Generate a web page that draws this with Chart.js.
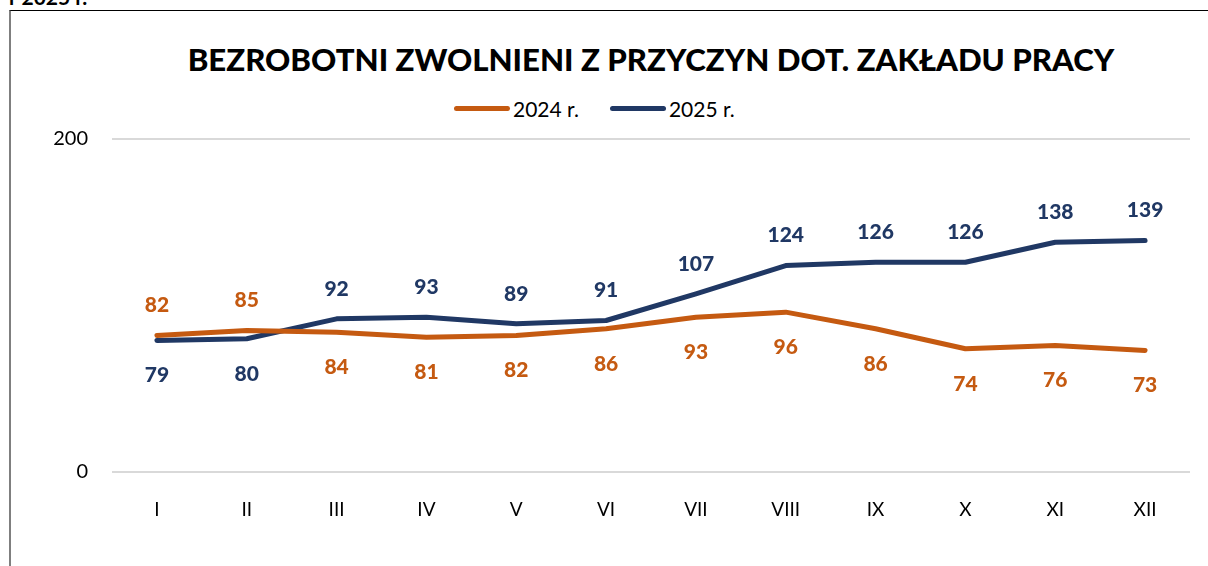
<!DOCTYPE html>
<html>
<head>
<meta charset="utf-8">
<script src="https://cdn.jsdelivr.net/npm/chart.js@4/dist/chart.umd.min.js"></script>
<style>
  body { margin: 0; background: #fff; font-family: Lato, "Open Sans", sans-serif; }
  #wrap { position: relative; width: 1208px; height: 566px; overflow: hidden; }
  #frame { position: absolute; left: 9px; top: 10px; right: -2px; bottom: -2px;
           border-left: 2px solid #7f7f7f; border-top: 1px solid #000; }
  #cut { position: absolute; left: 9px; top: -16px; font-weight: bold; font-size: 21px; }
  #title { position: absolute; top: 40px; left: 0; width: 1302px; text-align: center;
           font-weight: 900; font-size: 31px; white-space: nowrap; color: #000; }
  #legend { position: absolute; top: 96px; left: 454px; }
  #chart { position: absolute; left: 0; top: 0; }
</style>
</head>
<body>
<div id="wrap">
  <div id="cut">r 2025 r.</div>
  <div id="frame"></div>
  <div id="title">BEZROBOTNI ZWOLNIENI Z PRZYCZYN DOT. ZAKŁADU PRACY</div>
  <div id="legend"></div>
  <canvas id="chart" width="1208" height="566"></canvas>
</div>
<script>
const MONTHS = ['I', 'II', 'III', 'IV', 'V', 'VI', 'VII', 'VIII', 'IX', 'X', 'XI', 'XII'];
const VALUES_2024 = [82, 85, 84, 81, 82, 86, 93, 96, 86, 74, 76, 73];
const VALUES_2025 = [79, 80, 92, 93, 89, 91, 107, 124, 126, 126, 138, 139];
const SERIES_LABELS = ['2024 r.', '2025 r.'];
const Y_TICKS = [0, 200];

const COLOURS = ['#C55A11', '#203864'];

function makeLegend(labels, id) {
  const legendContainer = document.getElementById(id);
  const listContainer = document.createElement('ul');
  listContainer.style.display = 'flex';
  listContainer.style.flexDirection = 'row';
  listContainer.style.margin = 0;
  listContainer.style.padding = 0;
  listContainer.style.listStyle = 'none';

  labels.forEach((label, i) => {
    const li = document.createElement('li');
    li.style.display = 'flex';
    li.style.alignItems = 'center';
    li.style.marginRight = i === 0 ? '31px' : '0';

    const line = document.createElement('span');
    line.style.display = 'inline-block';
    line.style.width = '56px';
    line.style.height = '5px';
    line.style.borderRadius = '3px';
    line.style.background = COLOURS[i];
    line.style.marginRight = '3px';

    const text = document.createElement('span');
    text.style.fontSize = '21px';
    text.style.color = '#000';
    text.textContent = label;

    li.appendChild(line);
    li.appendChild(text);
    listContainer.appendChild(li);
  });
  legendContainer.appendChild(listContainer);
}

// value labels: above the line for the higher series, below for the lower
const valueLabels = {
  id: 'valueLabels',
  afterDatasetsDraw(chart) {
    const ctx = chart.ctx;
    ctx.save();
    ctx.font = '900 21px Lato, "Open Sans", sans-serif';
    ctx.textAlign = 'center';
    ctx.textBaseline = 'middle';
    chart.data.datasets.forEach((ds, i) => {
      const other = chart.data.datasets[1 - i];
      const meta = chart.getDatasetMeta(i);
      ctx.fillStyle = ds.borderColor;
      meta.data.forEach((pt, j) => {
        const above = ds.data[j] >= other.data[j];
        const y = above ? pt.y - 30 : pt.y + 35;
        ctx.fillText(String(ds.data[j]), pt.x, y);
      });
    });
    ctx.restore();
  }
};

function fitTitle() {
  const t = document.getElementById('title');
  const want = 928;
  const span = document.createElement('span');
  span.textContent = t.textContent;
  span.style.font = getComputedStyle(t).font;
  span.style.visibility = 'hidden';
  span.style.position = 'absolute';
  document.body.appendChild(span);
  const w = span.offsetWidth;
  span.remove();
  const size = parseFloat(getComputedStyle(t).fontSize) * want / w;
  t.style.fontSize = size.toFixed(1) + 'px';
}

function createChart() {
  const ctx = document.getElementById('chart');
  new Chart(ctx, {
    type: 'line',
    data: {
      labels: MONTHS,
      datasets: [VALUES_2024, VALUES_2025].map((vals, i) => ({
        label: SERIES_LABELS[i],
        data: vals,
        borderColor: COLOURS[i],
        backgroundColor: COLOURS[i],
        borderWidth: 5,
        borderCapStyle: 'round',
        borderJoinStyle: 'round',
        pointRadius: 0,
        tension: 0,
      })),
    },
    options: {
      responsive: false,
      animation: false,
      layout: { padding: { left: 12, right: 18, top: 139, bottom: 44 } },
      plugins: {
        legend: { display: false },
        tooltip: { enabled: false },
      },
      scales: {
        x: {
          offset: true,
          grid: { display: false },
          border: { display: false },
          ticks: { color: '#000', padding: 18, font: { size: 19, family: 'Lato' } },
          afterFit: (scale) => { scale.height = 50; },
        },
        y: {
          min: Y_TICKS[0],
          max: Y_TICKS[Y_TICKS.length - 1],
          afterBuildTicks: (scale) => { scale.ticks = Y_TICKS.map(v => ({ value: v })); },
          grid: { color: '#d9d9d9', lineWidth: 2, drawTicks: false },
          border: { display: false },
          ticks: { color: '#000', padding: 24, font: { size: 20, family: 'Lato' } },
          afterFit: (scale) => { scale.width = 100; },
        },
      },
    },
    plugins: [valueLabels],
  });
}

makeLegend(SERIES_LABELS, 'legend');
document.fonts.load('900 21px Lato').then(() => document.fonts.load('21px Lato')).then(() => {
  fitTitle();
  createChart();
});
</script>
</body>
</html>
